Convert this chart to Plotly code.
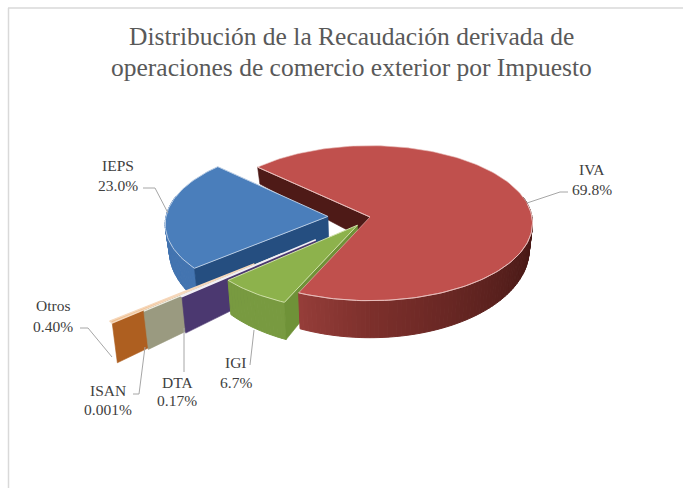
import math
import plotly.graph_objects as go

# ---- data ----
labels = ["IVA", "IGI", "DTA", "ISAN", "Otros", "IEPS"]
values = [69.8, 6.7, 0.17, 0.001, 0.40, 23.0]
value_text = ["69.8%", "6.7%", "0.17%", "0.001%", "0.40%", "23.0%"]
title_lines = ["Distribución de la Recaudación derivada de",
               "operaciones de comercio exterior por Impuesto"]

# ---- style / geometry of the drawing ----
explode = {"IVA": 0.0, "IGI": 0.13, "DTA": 0.436, "ISAN": 0.69, "Otros": 0.895, "IEPS": 0.26}
top_col = {"IVA": "#C0504D", "IGI": "#8DB24C", "DTA": "#5A4480", "ISAN": "#B5B5A0", "Otros": "#F0C090", "IEPS": "#4A7EBB"}
edge_col = {"IVA": "#E8BDBB", "IGI": "#CFE0A8", "DTA": "#F2F0F6", "ISAN": "#EDEDE2", "Otros": "#F6D8BC", "IEPS": "#B8CCE4"}
side_col = {"IVA": "#4E1A17", "IGI": "#6F9238", "DTA": "#4B3870", "ISAN": "#9A9A80", "Otros": "#AE5F20", "IEPS": "#254E80"}
rim_col = {"IGI": "#789A40", "IEPS": "#4374B0"}
red_stops = [(-114.3, (150, 62, 58)), (-90, (125, 48, 44)), (-50, (95, 35, 32)), (-20, (76, 27, 24)), (15, (66, 22, 20))]
START = 137.0
CX, CY, RX, RY, K = 370.0, 217.0, 162.0, 77.0, 0.08


def project(X, Y):
    s = 1 / (1 + K * Y)
    return CX + RX * X * s, CY - RY * Y * s


def lower(X, Y):
    x, y = project(X, Y)
    return CX + (x - CX) * 0.98, y + 25 - 12 * Y


total = sum(values)
ang = {}
a = START
for n, v in zip(labels, values):
    b = a - 360 * v / total
    ang[n] = (a, b)
    a = b


def apex(n):
    a, b = ang[n]
    m = math.radians((a + b) / 2)
    e = explode[n]
    return e * math.cos(m), e * math.sin(m)


def rim(n, deg):
    ax, ay = apex(n)
    return ax + math.cos(math.radians(deg)), ay + math.sin(math.radians(deg))


def arc(n, a0, a1, step=1.5):
    k = max(1, int(abs(a1 - a0) / step))
    return [rim(n, a0 + (a1 - a0) * i / k) for i in range(k + 1)]


fig = go.Figure()


def poly(pts, fill, line=None, width=0.6):
    fig.add_trace(go.Scatter(x=[p[0] for p in pts] + [pts[0][0]], y=[p[1] for p in pts] + [pts[0][1]],
                             mode="lines", fill="toself", fillcolor=fill,
                             line=dict(color=line or fill, width=width), hoverinfo="skip", showlegend=False))


def stroke(pts, color, width=1.0):
    fig.add_trace(go.Scatter(x=[p[0] for p in pts], y=[p[1] for p in pts], mode="lines",
                             line=dict(color=color, width=width), hoverinfo="skip", showlegend=False))


def radial_wall(n, deg, col):
    p, q = apex(n), rim(n, deg)
    poly([project(*p), project(*q), lower(*q), lower(*p)], col)


def top(n, line_w=1.0):
    a, b = ang[n]
    pts = [project(*apex(n))] + [project(*p) for p in arc(n, a, b)]
    poly(pts, top_col[n], edge_col[n], line_w)


def rim_wall(n, a0, a1, colf):
    pts = arc(n, a0, a1, 1.5)
    for i in range(len(pts) - 1):
        p, q = pts[i], pts[i + 1]
        t = a0 + (a1 - a0) * (i + 0.5) / (len(pts) - 1)
        poly([project(*p), project(*q), lower(*q), lower(*p)], colf(t), width=1.0)


def red_color(t):
    for (t0, c0), (t1, c1) in zip(red_stops, red_stops[1:]):
        if t0 <= t <= t1:
            f = (t - t0) / (t1 - t0)
            return "rgb(%d,%d,%d)" % tuple(c0[i] + (c1[i] - c0[i]) * f for i in range(3))
    return "rgb(%d,%d,%d)" % red_stops[-1][1]


# back inner wall of IVA
radial_wall("IVA", ang["IVA"][0], side_col["IVA"])
# IEPS
a, b = ang["IEPS"]
rim_wall("IEPS", a, a - 55, lambda t: rim_col["IEPS"])
radial_wall("IEPS", a, side_col["IEPS"])
top("IEPS")
# thin slices, farthest first
for n in ["Otros", "ISAN", "DTA"]:
    radial_wall(n, ang[n][0], side_col[n])
    top(n, 1.4)
# IGI
a, b = ang["IGI"]
rim_wall("IGI", a, b, lambda t: rim_col["IGI"])
radial_wall("IGI", a, side_col["IGI"])
top("IGI")
# IVA front
a, b = ang["IVA"]
rim_wall("IVA", 15, b, red_color)
top("IVA", 0.6)
stroke([project(*p) for p in arc("IVA", 10, b)], edge_col["IVA"], 1.0)
stroke([project(*p) for p in [rim("IVA", a), apex("IVA")]], edge_col["IVA"], 1.0)

# leader lines
leaders = [
    [(527, 203), (560, 192), (568, 192)],
    [(143, 188), (155, 188), (168, 213)],
    [(80, 328), (88, 328), (112, 357)],
    [(133, 394), (139, 394), (145, 347)],
    [(184, 328), (184, 372)],
    [(254, 330), (250, 365)],
]
for l in leaders:
    stroke(l, "#A6A6A6", 1.0)

# text
label_pos = {"IVA": (592, 169, 189), "IEPS": (118, 165, 185), "Otros": (53, 305, 326),
             "ISAN": (108, 390, 409), "DTA": (177, 382, 400), "IGI": (236, 362, 382)}
ann = []
for n, t in zip(labels, value_text):
    x, y1, y2 = label_pos[n]
    for txt, y in ((n, y1), (t, y2)):
        ann.append(dict(x=x, y=y, text=txt, showarrow=False, xanchor="center", yanchor="middle",
                        font=dict(family="Liberation Serif", size=15.5, color="#404040")))
for txt, y in zip(title_lines, (36, 67)):
    ann.append(dict(x=351, y=y, text=txt, showarrow=False, xanchor="center", yanchor="middle",
                    font=dict(family="Liberation Serif", size=25.5, color="#595959")))

fig.update_layout(
    width=683, height=488, margin=dict(l=0, r=0, t=0, b=0), paper_bgcolor="white", plot_bgcolor="white",
    xaxis=dict(range=[0, 683], visible=False, fixedrange=True),
    yaxis=dict(range=[488, 0], visible=False, fixedrange=True),
    annotations=ann, showlegend=False,
    shapes=[dict(type="line", x0=8.5, x1=8.5, y0=8, y1=488, line=dict(color="#D9D9D9", width=1.5), layer="below"),
            dict(type="line", x0=8, x1=683, y0=8, y1=8, line=dict(color="#D9D9D9", width=1.5), layer="below")],
)
fig.write_html("out.html", config=dict(displayModeBar=False), post_script="document.body.style.margin='0';")
